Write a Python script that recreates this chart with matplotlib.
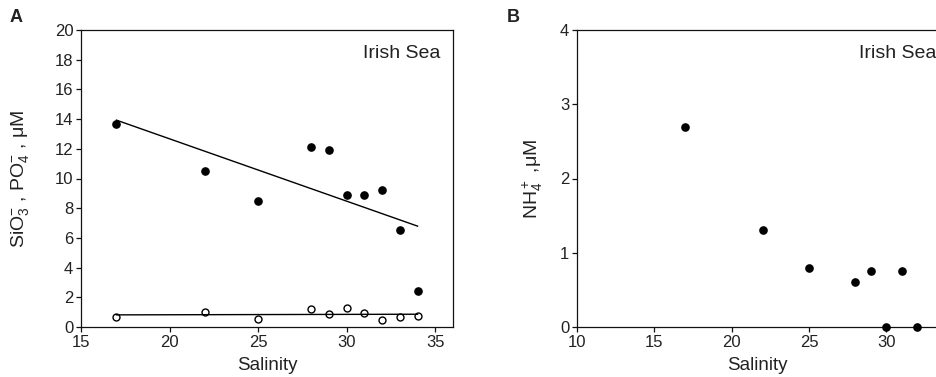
import numpy as np
import matplotlib
matplotlib.use("Agg")
import matplotlib.pyplot as plt

plt.rcParams['font.family'] = ['Liberation Sans', 'DejaVu Sans']
plt.rcParams['mathtext.fontset'] = 'custom'
plt.rcParams['mathtext.rm'] = 'Liberation Sans'
plt.rcParams['mathtext.it'] = 'Liberation Sans'

# Panel A data
sal_a = [17, 22, 25, 28, 29, 30, 31, 32, 33, 34]
sio3 = [13.7, 10.5, 8.5, 12.1, 11.9, 8.9, 8.9, 9.25, 6.5, 2.45]
po4 = [0.65, 1.0, 0.55, 1.2, 0.85, 1.3, 0.95, 0.5, 0.7, 0.75]

# Panel B data
sal_b = [17, 22, 25, 28, 29, 30, 31, 32]
nh4 = [2.7, 1.3, 0.8, 0.6, 0.75, 0.0, 0.75, 0.0]

xticks_a = [15, 20, 25, 30, 35]
yticks_a = [0, 2, 4, 6, 8, 10, 12, 14, 16, 18, 20]
xticks_b = [10, 15, 20, 25, 30]
yticks_b = [0, 1, 2, 3, 4]

tc = '#222222'
fs = 12

fig = plt.figure(figsize=(9.37, 3.77), dpi=100)
axA = fig.add_axes([81/937, 1-327/377, (453-81)/937, (327-30)/377])
axB = fig.add_axes([577/937, 1-327/377, (937-577)/937, (327-30)/377])

for ax in (axA, axB):
    for s in ax.spines.values():
        s.set_linewidth(0.9)
        s.set_color('#111111')
    ax.tick_params(direction='out', length=3.5, width=0.9, labelsize=fs,
                   labelcolor=tc, color='#111111', pad=2)

# Panel A
axA.plot(sal_a, sio3, 'o', color='black', markersize=5.2)
axA.plot(sal_a, po4, 'o', markerfacecolor='white', markeredgecolor='black',
         markeredgewidth=1.0, markersize=5.0)
xs = np.array([min(sal_a), max(sal_a)])
p1 = np.polyfit(sal_a, sio3, 1)
p2 = np.polyfit(sal_a, po4, 1)
axA.plot(xs, np.polyval(p1, xs), color='black', lw=1.0)
axA.plot(xs, np.polyval(p2, xs), color='black', lw=1.0)
axA.set_xlim(15, 36)
axA.set_ylim(0, 20)
axA.set_xticks(xticks_a)
axA.set_yticks(yticks_a)
axA.set_xlabel('Salinity', fontsize=fs + 1.5, color=tc, labelpad=5)
axA.set_ylabel(r'SiO$_3^{-}$ , PO$_4^{-}$ , μM', fontsize=fs + 2, color=tc, labelpad=17)
axA.text(0.967, 0.95, 'Irish Sea', transform=axA.transAxes, ha='right', va='top',
         fontsize=fs + 2, color=tc)
fig.text(10/937, 1-17/377, 'A', fontsize=13, fontweight='bold', color='#222222',
         va='center', ha='left')

# Panel B
axB.plot(sal_b, nh4, 'o', color='black', markersize=5.2, clip_on=False, zorder=3)
axB.set_xlim(10, 10 + (937-577)/((731.7-577)/10))
axB.set_ylim(0, 4)
axB.set_xticks(xticks_b)
axB.set_yticks(yticks_b)
axB.spines['right'].set_visible(False)
axB.set_xlabel('Salinity', fontsize=fs + 1.5, color=tc, labelpad=5)
axB.set_ylabel(r'NH$_4^+$ ,μM', fontsize=fs + 2, color=tc, labelpad=11)
axB.text(0.998, 0.95, 'Irish Sea', transform=axB.transAxes, ha='right', va='top',
         fontsize=fs + 2, color=tc)
fig.text(507/937, 1-17/377, 'B', fontsize=13, fontweight='bold', color='#222222',
         va='center', ha='left')

fig.savefig('out.png', dpi=100)
